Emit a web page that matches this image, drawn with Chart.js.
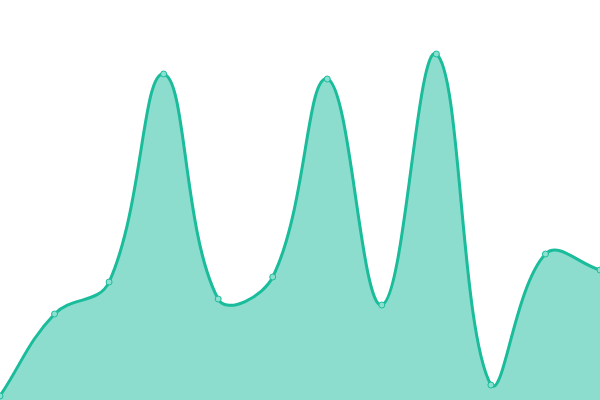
<!DOCTYPE html>
<html><head><meta charset="utf-8">
<script src="https://cdn.jsdelivr.net/npm/chart.js@4"></script>
<style>html,body{margin:0;padding:0;background:#fff}#w{width:600px;height:400px}</style>
</head><body><div id="w"><canvas id="c"></canvas></div>
<script>
const labels = ["1","2","3","4","5","6","7","8","9","10","11","12"];
const values = [4, 86, 118, 326, 101, 123, 321, 95, 346, 15, 146, 130];
const yMin = 0;
const yMax = 400;
new Chart(document.getElementById('c'), {
  type: 'line',
  data: { labels: labels, datasets: [{
    data: values,
    fill: true,
    tension: 0.4,
    borderColor: '#1abc9c',
    backgroundColor: 'rgba(26,188,156,0.5)',
    borderWidth: 3,
    pointRadius: 3,
    pointBorderWidth: 1,
    pointBackgroundColor: 'rgba(140,224,207,1)',
    pointBorderColor: '#1abc9c'
  }]},
  options: {
    responsive: true, maintainAspectRatio: false, animation: false,
    layout: { padding: 0, autoPadding: false },
    plugins: { legend: { display: false }, tooltip: { enabled: false } },
    scales: {
      x: { display: false },
      y: { display: false, min: yMin, max: yMax }
    }
  }
});
</script></body></html>
